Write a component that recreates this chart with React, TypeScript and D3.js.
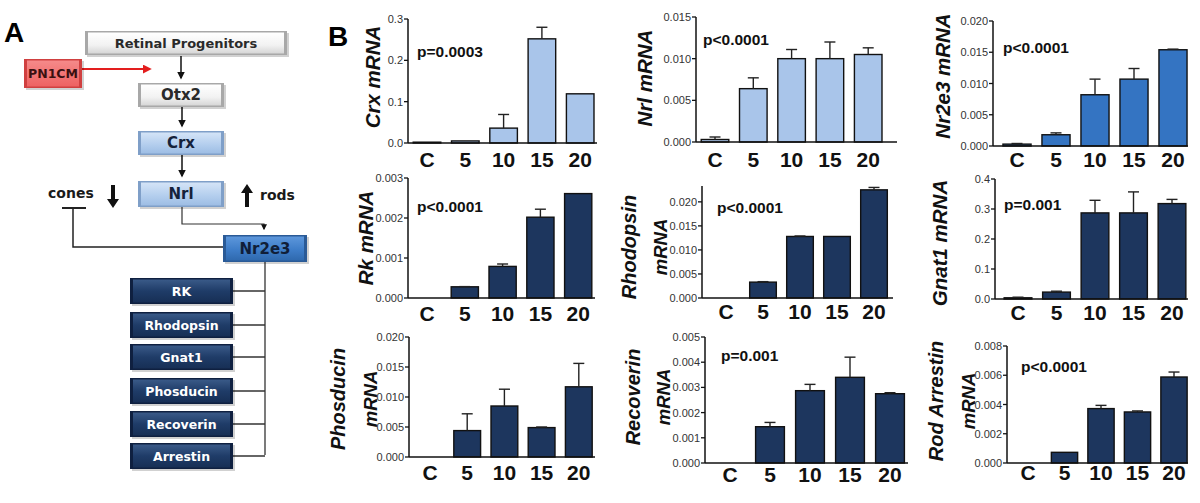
import React from "react";
import * as d3 from "d3";

// ---- data ----
const categories = ["C", "5", "10", "15", "20"];

const crxValues = [0.002, 0.005, 0.036, 0.252, 0.119];
const crxErrors = [0, 0, 0.033, 0.028, 0];
const crxTicks = [0, 0.1, 0.2, 0.3];

const nrlValues = [0.0003, 0.0064, 0.01, 0.01, 0.0105];
const nrlErrors = [0.0003, 0.0013, 0.0011, 0.002, 0.0008];
const nrlTicks = [0, 0.005, 0.01, 0.015];

const nr2e3Values = [0.0003, 0.0018, 0.0082, 0.0107, 0.0154];
const nr2e3Errors = [0.0001, 0.0003, 0.0025, 0.0017, 0.0001];
const nr2e3Ticks = [0, 0.005, 0.01, 0.015, 0.02];

const rkValues = [0, 0.00028, 0.00079, 0.00202, 0.00261];
const rkErrors = [0, 0.000005, 0.00006, 0.0002, 0];
const rkTicks = [0, 0.001, 0.002, 0.003];

const rhoValues = [0, 0.0033, 0.0128, 0.0128, 0.0225];
const rhoErrors = [0, 0.0001, 0.0001, 0, 0.0005];
const rhoTicks = [0, 0.005, 0.01, 0.015, 0.02];

const gnat1Values = [0.004, 0.023, 0.287, 0.287, 0.318];
const gnat1Errors = [0.002, 0.003, 0.042, 0.07, 0.014];
const gnat1Ticks = [0, 0.1, 0.2, 0.3, 0.4];

const phosValues = [0, 0.0044, 0.0085, 0.0049, 0.0117];
const phosErrors = [0, 0.0028, 0.0028, 0.0001, 0.0039];
const phosTicks = [0, 0.005, 0.01, 0.015, 0.02];

const recovValues = [0, 0.00144, 0.00287, 0.0034, 0.00275];
const recovErrors = [0, 0.00017, 0.00025, 0.0008, 0.00004];
const recovTicks = [0, 0.001, 0.002, 0.003, 0.004, 0.005];

const arrValues = [0, 0.00073, 0.00372, 0.00349, 0.00588];
const arrErrors = [0, 0, 0.00022, 0.00007, 0.00034];
const arrTicks = [0, 0.002, 0.004, 0.006, 0.008];

const LIGHT = "#a9c5ea";
const MID = "#3474c2";
const DARK = "#1d365e";

const panels = [
  { title: ["Crx mRNA"], values: crxValues, errors: crxErrors, ticks: crxTicks, fmt: ".1f", yMax: 0.3, color: LIGHT, p: "p=0.0003",
    x0: 408, x1: 597, yTop: 19, yBase: 143, c0: 427, step: 38.3, tx: [380], ty: 77, px: 417, py: 57, catY: 167 },
  { title: ["Nrl mRNA"], values: nrlValues, errors: nrlErrors, ticks: nrlTicks, fmt: ".3f", yMax: 0.015, color: LIGHT, p: "p<0.0001",
    x0: 696, x1: 897, yTop: 17, yBase: 142, c0: 715, step: 38.3, tx: [652], ty: 78, px: 703, py: 45, catY: 167 },
  { title: ["Nr2e3 mRNA"], values: nr2e3Values, errors: nr2e3Errors, ticks: nr2e3Ticks, fmt: ".3f", yMax: 0.02, color: MID, p: "p<0.0001",
    x0: 993, x1: 1188, yTop: 21, yBase: 146, c0: 1017, step: 39, tx: [950], ty: 76, px: 1003, py: 53, catY: 167 },
  { title: ["Rk mRNA"], values: rkValues, errors: rkErrors, ticks: rkTicks, fmt: ".3f", yMax: 0.003, color: DARK, p: "p<0.0001",
    x0: 408, x1: 595, yTop: 178, yBase: 298, c0: 427, step: 37.8, tx: [373], ty: 238, px: 417, py: 212, catY: 321 },
  { title: ["Rhodopsin", "mRNA"], values: rhoValues, errors: rhoErrors, ticks: rhoTicks, fmt: ".3f", yMax: 0.0233, color: DARK, p: "p<0.0001",
    x0: 702, x1: 893, yTop: 186, yBase: 298, c0: 726, step: 37, tx: [636, 667], ty: 247, px: 717, py: 213, catY: 319 },
  { title: ["Gnat1 mRNA"], values: gnat1Values, errors: gnat1Errors, ticks: gnat1Ticks, fmt: ".1f", yMax: 0.4, color: DARK, p: "p=0.001",
    x0: 995, x1: 1188, yTop: 179, yBase: 299, c0: 1018, step: 38.5, tx: [947], ty: 243, px: 1004, py: 210, catY: 320 },
  { title: ["Phosducin", "mRNA"], values: phosValues, errors: phosErrors, ticks: phosTicks, fmt: ".3f", yMax: 0.02, color: DARK, p: "",
    x0: 409, x1: 595, yTop: 337, yBase: 457, c0: 430, step: 37.2, tx: [345, 377], ty: 399, px: 0, py: 0, catY: 480 },
  { title: ["Recoverin", "mRNA"], values: recovValues, errors: recovErrors, ticks: recovTicks, fmt: ".3f", yMax: 0.005, color: DARK, p: "p=0.001",
    x0: 705, x1: 908, yTop: 337, yBase: 463, c0: 730, step: 40, tx: [640, 670], ty: 397, px: 721, py: 361, catY: 482 },
  { title: ["Rod Arrestin", "mRNA"], values: arrValues, errors: arrErrors, ticks: arrTicks, fmt: ".3f", yMax: 0.008, color: DARK, p: "p<0.0001",
    x0: 1007, x1: 1188, yTop: 346, yBase: 463, c0: 1028, step: 36.5, tx: [943, 975], ty: 401, px: 1021, py: 372, catY: 480 },
];

// ---- pathway diagram layout (panel A) ----
const boxes = [
  { text: "Retinal Progenitors", x: 85, y: 31, w: 202, h: 24, kind: "white", fs: 13 },
  { text: "PN1CM", x: 24, y: 59, w: 58, h: 29, kind: "red", fs: 12.5 },
  { text: "Otx2", x: 138, y: 83, w: 86, h: 24, kind: "white", fs: 15 },
  { text: "Crx", x: 138, y: 131, w: 86, h: 24, kind: "light", fs: 15 },
  { text: "Nrl", x: 138, y: 181, w: 86, h: 26, kind: "light", fs: 15 },
  { text: "Nr2e3", x: 223, y: 235, w: 84, h: 27, kind: "mid", fs: 15 },
];
const targets = ["RK", "Rhodopsin", "Gnat1", "Phosducin", "Recoverin", "Arrestin"];
const targetY = [278, 312, 344, 378, 411, 443];

const CHART_FONT = "'Liberation Sans', Arial, sans-serif";
const DIAG_FONT = "'DejaVu Sans', Verdana, sans-serif";

const boxStyle: Record<string, { grad: string; edge: string; text: string }> = {
  white: { grad: "gWhite", edge: "#a8a8a8", text: "#2a2a2a" },
  red: { grad: "gRed", edge: "#d04040", text: "#3a1010" },
  light: { grad: "gLight", edge: "#7f9fc8", text: "#15223a" },
  mid: { grad: "gMid", edge: "#2a5a96", text: "#101e38" },
  dark: { grad: "gDark", edge: "#0f2040", text: "#ffffff" },
};

function Box({ x, y, w, h, kind, text, fs }: any) {
  const s = boxStyle[kind];
  return (
    <g>
      <rect x={x + 2} y={y + 2} width={w} height={h} fill="#000" opacity={0.18} />
      <rect x={x} y={y} width={w} height={h} fill={s.edge} />
      <rect x={x + 3} y={y + 1.5} width={w - 6} height={h - 3} fill={`url(#${s.grad})`} />
      <text x={x + w / 2} y={y + h / 2} textAnchor="middle" dominantBaseline="central"
        fontFamily={DIAG_FONT} fontWeight="bold" fontSize={fs} fill={s.text}>{text}</text>
    </g>
  );
}

function Diagram() {
  const trunkX = 265;
  return (
    <g>
      <text x={4} y={42} fontFamily={CHART_FONT} fontWeight="bold" fontSize={28}>A</text>
      {/* vertical arrows */}
      <line x1={181} y1={56} x2={181} y2={78} stroke="#111" strokeWidth={1.5} markerEnd="url(#ahBlack)" />
      <line x1={182} y1={107} x2={182} y2={126} stroke="#111" strokeWidth={1.5} markerEnd="url(#ahBlack)" />
      <line x1={182} y1={155} x2={182} y2={176} stroke="#111" strokeWidth={1.5} markerEnd="url(#ahBlack)" />
      <line x1={82} y1={69} x2={150} y2={69} stroke="#e31e1e" strokeWidth={1.8} markerEnd="url(#ahRed)" />
      {/* Nrl -> Nr2e3 */}
      <polyline points="182,207 182,224 264,224 264,229" fill="none" stroke="#333" strokeWidth={1.2} markerEnd="url(#ahBlack)" />
      {/* inhibition of cones */}
      <line x1={62} y1={208} x2={86} y2={208} stroke="#222" strokeWidth={2} />
      <polyline points="73,208 73,247 223,247" fill="none" stroke="#222" strokeWidth={1.5} />
      {/* thick arrows */}
      <path d="M111,185 h4 v14 h4 l-6,9 l-6,-9 h4 z" fill="#111" />
      <path d="M245,207 h4 v-14 h4 l-6,-9 l-6,9 h4 z" fill="#111" />
      <text x={48} y={193} dominantBaseline="central" fontFamily={DIAG_FONT} fontWeight="bold" fontSize={14} fill="#1a1a1a">cones</text>
      <text x={260} y={195} dominantBaseline="central" fontFamily={DIAG_FONT} fontWeight="bold" fontSize={14} fill="#1a1a1a">rods</text>
      {/* trunk to targets */}
      <line x1={trunkX} y1={262} x2={trunkX} y2={targetY[targetY.length - 1] + 12} stroke="#333" strokeWidth={1.3} />
      {targets.map((t, i) => (
        <line key={t} x1={232} y1={targetY[i] + 13} x2={trunkX} y2={targetY[i] + 13} stroke="#333" strokeWidth={1.3} />
      ))}
      {boxes.map((b) => <Box key={b.text} {...b} />)}
      {targets.map((t, i) => (
        <Box key={t} text={t} x={130} y={targetY[i]} w={103} h={26} kind="dark" fs={12.5} />
      ))}
    </g>
  );
}

function BarPanel({ pn }: { pn: (typeof panels)[number] }) {
  const y = d3.scaleLinear().domain([0, pn.yMax]).range([pn.yBase, pn.yTop]);
  const x = d3.scaleBand<string>()
    .domain(categories)
    .range([pn.c0 - pn.step / 2, pn.c0 + pn.step * 4.5])
    .paddingInner(0.28)
    .paddingOuter(0.14);
  const fmt = d3.format(pn.fmt);
  const bw = x.bandwidth();
  const single = pn.title.length === 1;
  return (
    <g fontFamily={CHART_FONT}>
      {categories.map((c, i) => {
        const v = pn.values[i];
        const e = pn.errors[i];
        const cx = (x(c) as number) + bw / 2;
        return (
          <g key={c}>
            {v > 0 && (
              <rect x={x(c)} y={y(v)} width={bw} height={pn.yBase - y(v)} fill={pn.color} stroke="#111" strokeWidth={1.4} />
            )}
            {e > 0 && (
              <g stroke="#222" strokeWidth={1.4}>
                <line x1={cx} x2={cx} y1={y(v)} y2={y(v + e)} />
                <line x1={cx - 5.5} x2={cx + 5.5} y1={y(v + e)} y2={y(v + e)} />
              </g>
            )}
            <text x={cx} y={pn.catY} textAnchor="middle" fontWeight="bold" fontSize={21} fill="#111">{c}</text>
          </g>
        );
      })}
      <line x1={pn.x0} x2={pn.x0} y1={pn.yBase} y2={pn.yTop} stroke="#111" strokeWidth={1.5} />
      <line x1={pn.x0} x2={pn.x1} y1={pn.yBase} y2={pn.yBase} stroke="#111" strokeWidth={1.5} />
      {pn.ticks.map((t) => (
        <g key={t}>
          <line x1={pn.x0 - 4} x2={pn.x0} y1={y(t)} y2={y(t)} stroke="#111" strokeWidth={1.3} />
          <text x={pn.x0 - 5} y={y(t)} textAnchor="end" dominantBaseline="central" fontSize={11} fill="#333">{fmt(t)}</text>
        </g>
      ))}
      {pn.title.map((line, i) => (
        <text key={line} transform={`translate(${pn.tx[i]},${pn.ty}) rotate(-90)`} textAnchor="middle"
          fontWeight="bold" fontStyle="italic" fontSize={single ? 20.5 : i === 0 ? 20 : 18.5} fill="#111">{line}</text>
      ))}
      {pn.p && (
        <text x={pn.px} y={pn.py} fontWeight="bold" fontSize={15.5} fill="#111">{pn.p}</text>
      )}
    </g>
  );
}

export default function App() {
  return (
    <svg width={1200} height={503} style={{ position: "absolute", left: 0, top: 0, background: "#fff" }}>
      <defs>
        <linearGradient id="gWhite" x1="0" y1="0" x2="0" y2="1">
          <stop offset="0%" stopColor="#ffffff" />
          <stop offset="60%" stopColor="#f2f2f2" />
          <stop offset="100%" stopColor="#d6d6d6" />
        </linearGradient>
        <linearGradient id="gRed" x1="0" y1="0" x2="0" y2="1">
          <stop offset="0%" stopColor="#f58a8a" />
          <stop offset="100%" stopColor="#ee6262" />
        </linearGradient>
        <linearGradient id="gLight" x1="0" y1="0" x2="0" y2="1">
          <stop offset="0%" stopColor="#d4e4f7" />
          <stop offset="55%" stopColor="#b5cfee" />
          <stop offset="100%" stopColor="#9dbde4" />
        </linearGradient>
        <linearGradient id="gMid" x1="0" y1="0" x2="0" y2="1">
          <stop offset="0%" stopColor="#5d97db" />
          <stop offset="55%" stopColor="#3e7dc8" />
          <stop offset="100%" stopColor="#2f69ae" />
        </linearGradient>
        <linearGradient id="gDark" x1="0" y1="0" x2="0" y2="1">
          <stop offset="0%" stopColor="#3a5a88" />
          <stop offset="50%" stopColor="#1f3c68" />
          <stop offset="100%" stopColor="#172f55" />
        </linearGradient>
        <marker id="ahBlack" viewBox="0 0 10 10" refX="8" refY="5" markerWidth="5" markerHeight="5" orient="auto">
          <path d="M0,0 L10,5 L0,10 z" fill="#111" />
        </marker>
        <marker id="ahRed" viewBox="0 0 10 10" refX="8" refY="5" markerWidth="5" markerHeight="5" orient="auto">
          <path d="M0,0 L10,5 L0,10 z" fill="#e31e1e" />
        </marker>
      </defs>
      <Diagram />
      <text x={328} y={46} fontFamily={CHART_FONT} fontWeight="bold" fontSize={28}>B</text>
      {panels.map((pn, i) => <BarPanel key={i} pn={pn} />)}
    </svg>
  );
}
